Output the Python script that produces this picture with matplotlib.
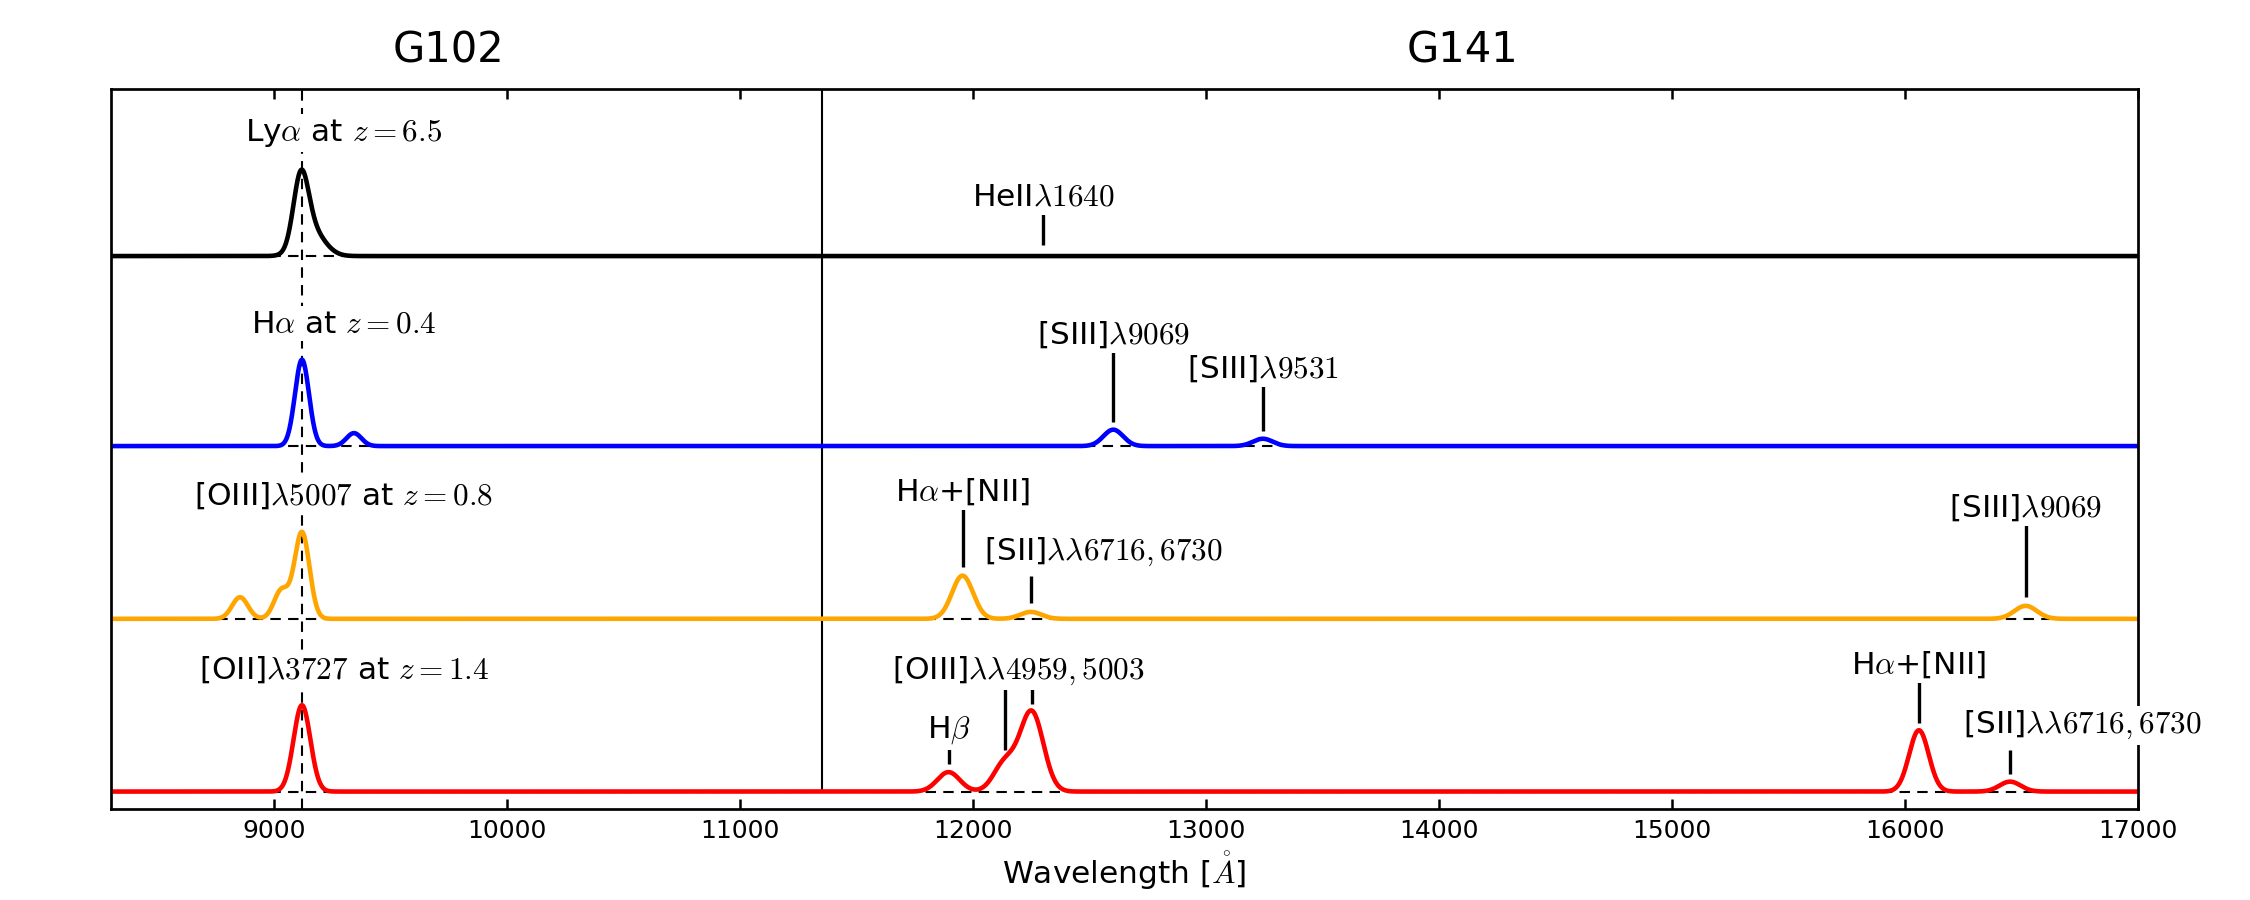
import numpy as np
import matplotlib
matplotlib.use("Agg")
import matplotlib.pyplot as plt
import matplotlib.transforms as mtransforms

plt.rcParams['mathtext.fontset'] = 'cm'
plt.rcParams['font.family'] = 'DejaVu Sans'

# --- data ----------------------------------------------------------------
# each row: emission line components (observed centre [A], amplitude, sigma [A])
row_colors = ['black', 'blue', 'orange', 'red']
row_offsets = [6.2, 4.0, 2.0, 0.0]
row_titles = [r'Ly$\alpha$ at $z=6.5$',
              r'H$\alpha$ at $z=0.4$',
              r'[OIII]$\lambda5007$ at $z=0.8$',
              r'[OII]$\lambda3727$ at $z=1.4$']
row_title_y = [7.53, 5.32, 3.32, 1.31]

# Lya: narrow core plus a red wing
lya_centers = [9115, 9160]
lya_amps = [0.78, 0.30]
lya_sigmas = [32, 55]

ha_centers = [9120, 9343, 12602, 13244]
ha_amps = [1.0, 0.15, 0.19, 0.085]
ha_sigmas = [30, 32, 42, 42]

o3_centers = [8854, 9032, 9120, 11955, 12248, 16518]
o3_amps = [0.25, 0.33, 1.0, 0.50, 0.08, 0.15]
o3_sigmas = [34, 32, 32, 45, 45, 48]

o2_centers = [9120, 11895, 12137, 12252, 16060, 16451]
o2_amps = [1.0, 0.225, 0.33, 0.92, 0.71, 0.115]
o2_sigmas = [36, 48, 48, 50, 42, 45]

row_lines = [(lya_centers, lya_amps, lya_sigmas),
             (ha_centers, ha_amps, ha_sigmas),
             (o3_centers, o3_amps, o3_sigmas),
             (o2_centers, o2_amps, o2_sigmas)]

# line markers: x, bottom, top
marker_x = [12300, 12602, 13244, 11955, 12249, 16518, 11895, 12137, 12252, 16060, 16451]
marker_y0 = [6.33, 4.28, 4.18, 2.60, 2.18, 2.25, 0.316, 0.48, 1.01, 0.795, 0.20]
marker_y1 = [6.72, 5.105, 4.71, 3.27, 2.49, 3.10, 0.536, 1.23, 1.23, 1.29, 0.48]

# line labels: text, x, y, alignment
label_text = [r'HeII$\lambda1640$', r'[SIII]$\lambda9069$', r'[SIII]$\lambda9531$',
              r'H$\alpha$+[NII]', r'[SII]$\lambda\lambda6716,6730$', r'[SIII]$\lambda9069$',
              r'H$\beta$', r'[OIII]$\lambda\lambda4959,5003$',
              r'H$\alpha$+[NII]', r'[SII]$\lambda\lambda6716,6730$']
label_x = [12300, 12602, 13244, 11955, 12049, 16518, 11895, 12194, 16060, 16251]
label_y = [6.78, 5.19, 4.79, 3.37, 2.68, 3.18, 0.62, 1.31, 1.37, 0.675]
label_ha = ['center', 'center', 'center', 'center', 'left', 'center',
            'center', 'center', 'center', 'left']

ref_wave = 9120        # common observed line position
grism_split = 11350    # G102 / G141 boundary
grism_names = ['G102', 'G141']
grism_x = [9750, 14100]

xmin, xmax = 8300, 17000
ymin, ymax = -0.2, 8.13


def profile(x, centers, amps, sigmas):
    y = np.zeros_like(x)
    for c, a, s in zip(centers, amps, sigmas):
        y += a * np.exp(-0.5 * ((x - c) / s) ** 2)
    return y


wave = np.linspace(xmin, xmax, 8701)

fig = plt.figure(figsize=(15, 6), dpi=150)
ax = fig.add_axes([0.0493, 0.1013, 0.9009, 0.7994])

for off, color, lines in zip(row_offsets, row_colors, row_lines):
    ax.axhline(off, color='k', ls=(0, (5, 3.5)), lw=1, zorder=1)
    ax.plot(wave, off + profile(wave, *lines), color=color, lw=2.2, zorder=2)

ax.axvline(ref_wave, color='k', ls=(0, (5, 3.5)), lw=1, zorder=1)
ax.vlines(grism_split, 0, ymax, color='k', lw=1, zorder=1)

ax.vlines(marker_x, marker_y0, marker_y1, color='k', lw=1.6, zorder=3)

box = dict(facecolor='white', edgecolor='none', pad=1.5)
for t, x, y, ha in zip(label_text, label_x, label_y, label_ha):
    ax.text(x, y, t, ha=ha, va='baseline', fontsize=15, bbox=box, zorder=4)

for t, y in zip(row_titles, row_title_y):
    ax.text(9300, y, t, ha='center', va='baseline', fontsize=15, bbox=box, zorder=4)

trans = mtransforms.blended_transform_factory(ax.transData, ax.transAxes)
for name, gx in zip(grism_names, grism_x):
    ax.text(gx, 1.037, name, transform=trans, ha='center', va='baseline', fontsize=20)

ax.set_xlim(xmin, xmax)
ax.set_ylim(ymin, ymax)
ax.set_yticks([])
ax.set_xticks(np.arange(9000, 17001, 1000))
ax.tick_params(axis='x', direction='in', top=True, length=5, width=1.2,
               labelsize=12, pad=5)
for sp in ax.spines.values():
    sp.set_linewidth(1.3)
ax.set_xlabel(r'Wavelength [$\mathring{A}$]', fontsize=15, labelpad=3)

fig.savefig('out.png', dpi=150)
